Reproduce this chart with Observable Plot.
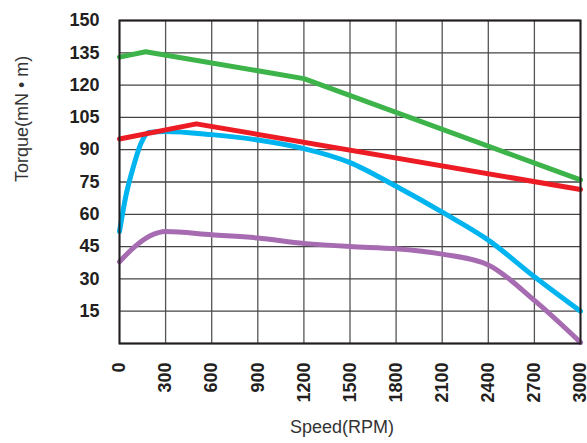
<!DOCTYPE html>
<html><head><meta charset="utf-8">
<script src="https://cdn.jsdelivr.net/npm/d3@7"></script>
<script src="https://cdn.jsdelivr.net/npm/@observablehq/plot@0.6"></script>
<style>
body{margin:0;background:#fff}
#chart svg{display:block}
</style>
</head><body><div id="chart"></div>
<script>
// Tick values
const speedTicks = [0,300,600,900,1200,1500,1800,2100,2400,2700,3000];
const torqueTicks = [15,30,45,60,75,90,105,120,135,150];
const torqueGrid = [0,15,30,45,60,75,90,105,120,135,150];

// Series (speed in RPM, torque in mN·m)
const greenSpeed  = [0,170,1200,3000];
const greenTorque = [133,135.5,123,76];

const redSpeed  = [0,500,3000];
const redTorque = [95,102,71.5];

const blueSpeed  = [0,40,90,140,190,300,600,900,1200,1500,1800,2100,2400,2700,3000];
const blueTorque = [52,68,82,93,98,98.5,97,94.5,90.5,84,73,61,48,31,15];

const purpleSpeed  = [0,100,200,300,600,900,1200,1500,1800,2100,2400,2700,3000];
const purpleTorque = [38,45,50,52,50.5,49,46.5,45,44,41.5,36.5,20,0.5];

const toRows = (xs, ys) => xs.map((x, i) => ({speed: x, torque: ys[i]}));
const green = toRows(greenSpeed, greenTorque);
const red = toRows(redSpeed, redTorque);
const blue = toRows(blueSpeed, blueTorque);
const purple = toRows(purpleSpeed, purpleTorque);

const font = "'Liberation Sans', Arial, Helvetica, sans-serif";

const chart = Plot.plot({
  width: 587,
  height: 443,
  marginLeft: 119,
  marginRight: 7,
  marginTop: 20,
  marginBottom: 100,
  style: {fontFamily: font, background: "#fff", color: "#231f20"},
  x: {domain: [0, 3000]},
  y: {domain: [0, 150]},
  marks: [
    Plot.gridX(speedTicks, {stroke: "#555", strokeOpacity: 1, strokeWidth: 1.3}),
    Plot.gridY(torqueGrid, {stroke: "#444", strokeOpacity: 1, strokeWidth: 1.3}),
    Plot.line(purple, {x: "speed", y: "torque", stroke: "#a66bb0", strokeWidth: 5, curve: "monotone-x"}),
    Plot.line(blue, {x: "speed", y: "torque", stroke: "#00b4ef", strokeWidth: 5, curve: "monotone-x"}),
    Plot.line(green, {x: "speed", y: "torque", stroke: "#3cb44a", strokeWidth: 5}),
    Plot.line(red, {x: "speed", y: "torque", stroke: "#ed1c24", strokeWidth: 5}),
    Plot.frame({stroke: "#231f20", strokeWidth: 2}),
    Plot.axisX(speedTicks, {tickSize: 0, tickRotate: -90, tickPadding: 19, fontSize: 18, fontWeight: "bold", label: null, fill: "#231f20", tickFormat: d => String(d)}),
    Plot.axisY(torqueTicks, {tickSize: 0, tickPadding: 20, fontSize: 18, fontWeight: "bold", label: null, fill: "#231f20", tickFormat: d => String(d)}),
    Plot.text(["Speed(RPM)"], {frameAnchor: "bottom", dy: 89, dx: -8, fontSize: 18, fill: "#333"}),
    Plot.text(["Torque(mN • m)"], {frameAnchor: "left", dx: -97, rotate: -90, fontSize: 18, fill: "#333"})
  ]
});
document.getElementById("chart").appendChild(chart);
</script>
</body></html>
